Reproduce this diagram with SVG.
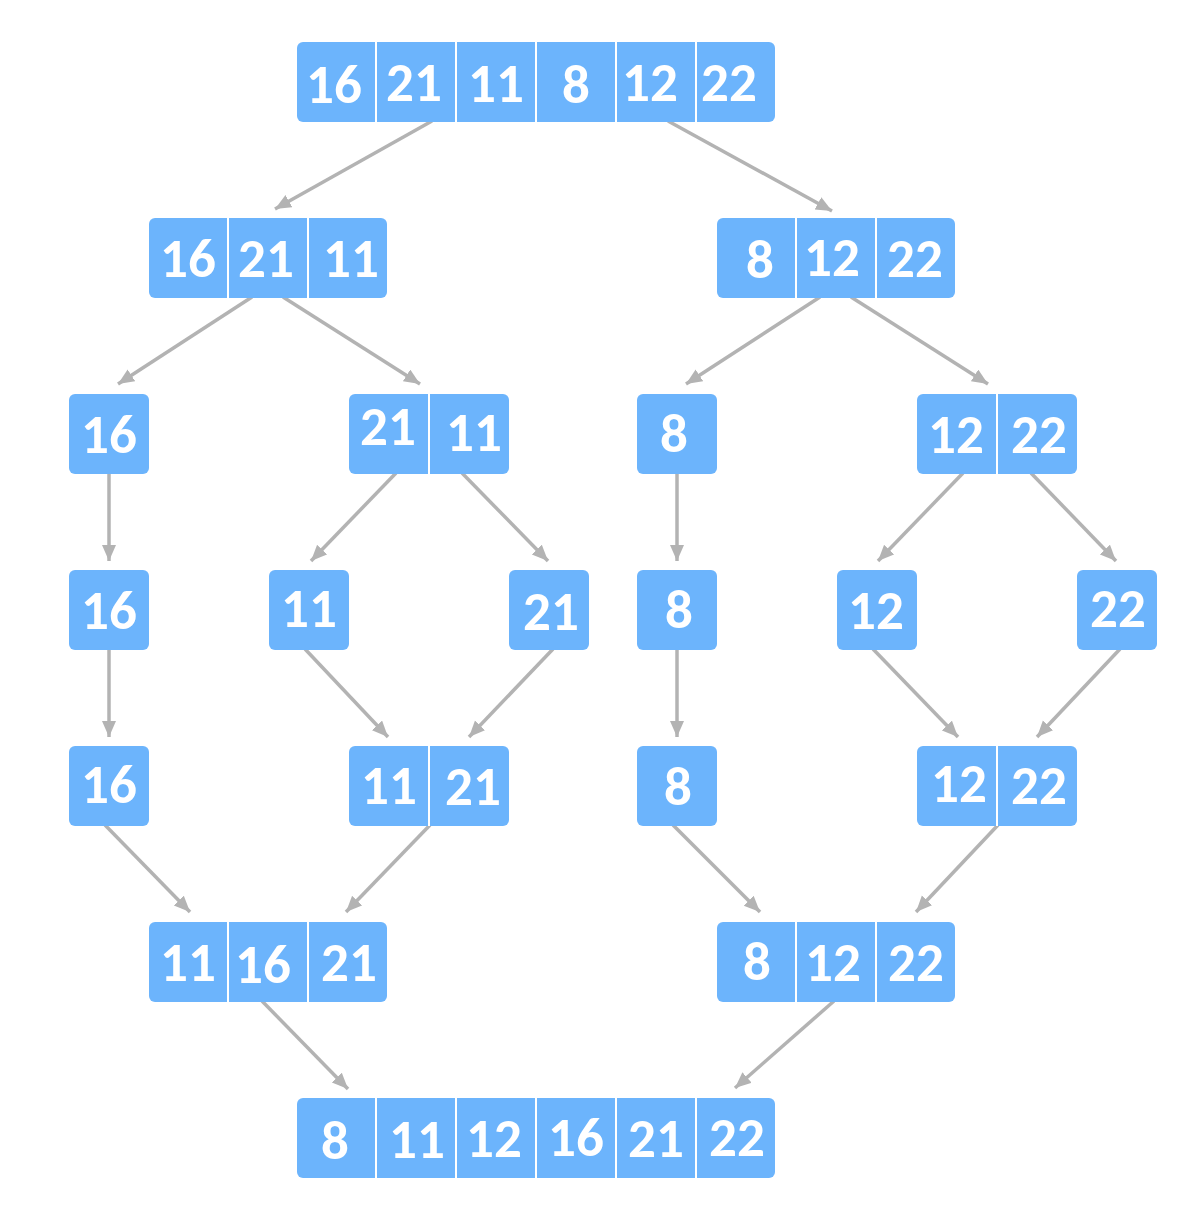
<svg xmlns="http://www.w3.org/2000/svg" width="1191" height="1221" viewBox="0 0 1191 1221">
<style>
.box{fill:#6cb4fc}
.div{stroke:#ffffff;stroke-width:2}
text{font-family:"Carlito","Liberation Sans",Arial,sans-serif;font-weight:bold;font-size:55px;fill:#ffffff;text-anchor:middle}
.c{fill:none;stroke:#b3b3b3;stroke-width:3.5;marker-end:url(#ah)}
</style>
<defs>
<marker id="ah" markerUnits="userSpaceOnUse" markerWidth="17" markerHeight="15" refX="16" refY="7" orient="auto">
<path d="M0,0 L16,7 L0,14 z" fill="#b3b3b3"/>
</marker>
</defs>
<rect width="1191" height="1221" fill="#ffffff"/>
<g id="connectors">
<line class="c" x1="432" y1="121" x2="275" y2="209"/>
<line class="c" x1="668" y1="121" x2="832" y2="211"/>
<line class="c" x1="252" y1="297" x2="118" y2="384"/>
<line class="c" x1="283" y1="297" x2="420" y2="384"/>
<line class="c" x1="820" y1="297" x2="686" y2="384"/>
<line class="c" x1="851" y1="297" x2="988" y2="384"/>
<line class="c" x1="109" y1="473" x2="109" y2="561"/>
<line class="c" x1="396" y1="473" x2="311" y2="561"/>
<line class="c" x1="462" y1="473" x2="548" y2="561"/>
<line class="c" x1="677" y1="473" x2="677" y2="561"/>
<line class="c" x1="963" y1="473" x2="878" y2="561"/>
<line class="c" x1="1031" y1="473" x2="1116" y2="561"/>
<line class="c" x1="109" y1="649" x2="109" y2="737"/>
<line class="c" x1="305" y1="649" x2="388" y2="737"/>
<line class="c" x1="553" y1="649" x2="469" y2="737"/>
<line class="c" x1="677" y1="649" x2="677" y2="737"/>
<line class="c" x1="873" y1="649" x2="958" y2="737"/>
<line class="c" x1="1120" y1="649" x2="1037" y2="737"/>
<line class="c" x1="105" y1="825" x2="190" y2="912"/>
<line class="c" x1="430" y1="825" x2="346" y2="912"/>
<line class="c" x1="673" y1="825" x2="760" y2="912"/>
<line class="c" x1="998" y1="825" x2="916" y2="912"/>
<line class="c" x1="262" y1="1001" x2="348" y2="1089"/>
<line class="c" x1="834" y1="1001" x2="735" y2="1088"/>
</g>
<g id="n0">
<rect class="box" x="297" y="42" width="478" height="80" rx="6"/>
<line class="div" x1="376" y1="42" x2="376" y2="122"/><line class="div" x1="456" y1="42" x2="456" y2="122"/><line class="div" x1="536" y1="42" x2="536" y2="122"/><line class="div" x1="616" y1="42" x2="616" y2="122"/><line class="div" x1="696" y1="42" x2="696" y2="122"/>
<text x="334" y="103">16</text><text x="414" y="101">21</text><text x="496" y="102">11</text><text x="576" y="103">8</text><text x="650" y="101">12</text><text x="729" y="101">22</text>
</g>
<g id="n1">
<rect class="box" x="149" y="218" width="238" height="80" rx="6"/>
<line class="div" x1="228" y1="218" x2="228" y2="298"/><line class="div" x1="308" y1="218" x2="308" y2="298"/>
<text x="188" y="277">16</text><text x="266" y="277">21</text><text x="351" y="277">11</text>
</g>
<g id="n2">
<rect class="box" x="717" y="218" width="238" height="80" rx="6"/>
<line class="div" x1="796" y1="218" x2="796" y2="298"/><line class="div" x1="876" y1="218" x2="876" y2="298"/>
<text x="760" y="278">8</text><text x="832" y="276">12</text><text x="915" y="277">22</text>
</g>
<g id="n3">
<rect class="box" x="69" y="394" width="80" height="80" rx="6"/>
<text x="109" y="453">16</text>
</g>
<g id="n4">
<rect class="box" x="349" y="394" width="160" height="80" rx="6"/>
<line class="div" x1="429" y1="394" x2="429" y2="474"/>
<text x="388" y="445">21</text><text x="474" y="451">11</text>
</g>
<g id="n5">
<rect class="box" x="637" y="394" width="80" height="80" rx="6"/>
<text x="674" y="452">8</text>
</g>
<g id="n6">
<rect class="box" x="917" y="394" width="160" height="80" rx="6"/>
<line class="div" x1="997" y1="394" x2="997" y2="474"/>
<text x="956" y="453">12</text><text x="1039" y="453">22</text>
</g>
<g id="n7">
<rect class="box" x="69" y="570" width="80" height="80" rx="6"/>
<text x="109" y="629">16</text>
</g>
<g id="n8">
<rect class="box" x="269" y="570" width="80" height="80" rx="6"/>
<text x="309" y="627">11</text>
</g>
<g id="n9">
<rect class="box" x="509" y="570" width="80" height="80" rx="6"/>
<text x="551" y="630">21</text>
</g>
<g id="n10">
<rect class="box" x="637" y="570" width="80" height="80" rx="6"/>
<text x="679" y="628">8</text>
</g>
<g id="n11">
<rect class="box" x="837" y="570" width="80" height="80" rx="6"/>
<text x="876" y="629">12</text>
</g>
<g id="n12">
<rect class="box" x="1077" y="570" width="80" height="80" rx="6"/>
<text x="1118" y="627">22</text>
</g>
<g id="n13">
<rect class="box" x="69" y="746" width="80" height="80" rx="6"/>
<text x="109" y="803">16</text>
</g>
<g id="n14">
<rect class="box" x="349" y="746" width="160" height="80" rx="6"/>
<line class="div" x1="429" y1="746" x2="429" y2="826"/>
<text x="389" y="804">11</text><text x="473" y="805">21</text>
</g>
<g id="n15">
<rect class="box" x="637" y="746" width="80" height="80" rx="6"/>
<text x="678" y="805">8</text>
</g>
<g id="n16">
<rect class="box" x="917" y="746" width="160" height="80" rx="6"/>
<line class="div" x1="997" y1="746" x2="997" y2="826"/>
<text x="959" y="802">12</text><text x="1039" y="804">22</text>
</g>
<g id="n17">
<rect class="box" x="149" y="922" width="238" height="80" rx="6"/>
<line class="div" x1="228" y1="922" x2="228" y2="1002"/><line class="div" x1="308" y1="922" x2="308" y2="1002"/>
<text x="188" y="981">11</text><text x="263" y="983">16</text><text x="349" y="981">21</text>
</g>
<g id="n18">
<rect class="box" x="717" y="922" width="238" height="80" rx="6"/>
<line class="div" x1="796" y1="922" x2="796" y2="1002"/><line class="div" x1="876" y1="922" x2="876" y2="1002"/>
<text x="757" y="980">8</text><text x="833" y="981">12</text><text x="916" y="981">22</text>
</g>
<g id="n19">
<rect class="box" x="297" y="1098" width="478" height="80" rx="6"/>
<line class="div" x1="376" y1="1098" x2="376" y2="1178"/><line class="div" x1="456" y1="1098" x2="456" y2="1178"/><line class="div" x1="536" y1="1098" x2="536" y2="1178"/><line class="div" x1="616" y1="1098" x2="616" y2="1178"/><line class="div" x1="696" y1="1098" x2="696" y2="1178"/>
<text x="335" y="1159">8</text><text x="417" y="1158">11</text><text x="494" y="1157">12</text><text x="576" y="1156">16</text><text x="656" y="1157">21</text><text x="737" y="1156">22</text>
</g>
</svg>
